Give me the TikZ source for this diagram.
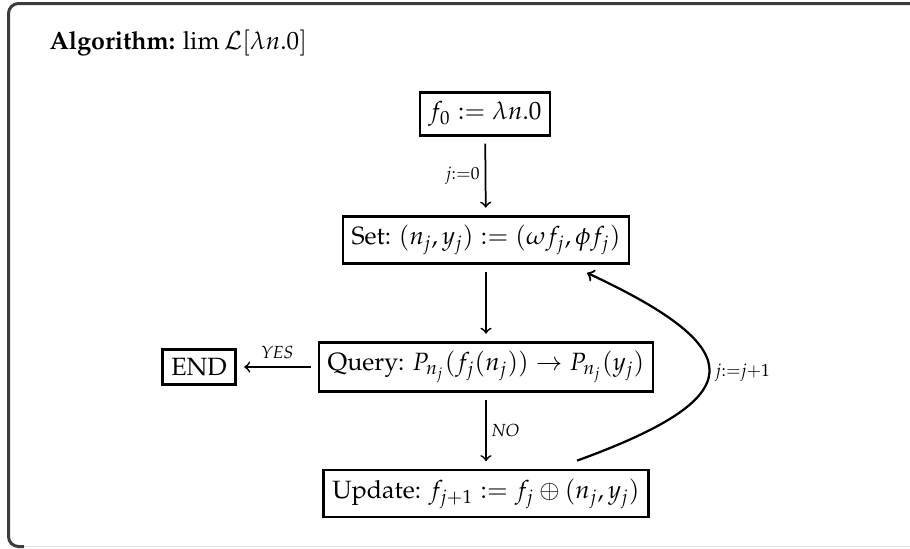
\documentclass[tikz,border=0pt]{standalone}
\usepackage[T1]{fontenc}
\usepackage{mathpazo}
\definecolor{framegray}{HTML}{3C3C3C}
\definecolor{shadegray}{HTML}{E4E4E4}
\begin{document}
\begin{tikzpicture}[x=0.4pt, y=-0.4pt,
% common options for the boxes:
box/.style = {draw, line width=1pt, inner sep=3.5pt, align=center},
% common options for the arrows:
flow/.style = {->, line width=0.7pt, shorten <=2.8pt, shorten >=3pt},
% common options for the small labels:
lbl/.style = {font=\scriptsize, inner sep=2pt}]
\useasboundingbox (0,0) rectangle (910,548);
% the frame
\draw[framegray, line width=1.2pt, rounded corners=4pt] (930,3.5) -- (8.5,3.5) -- (8.5,546.5) -- (24,546.5);
\draw[shadegray, line width=0.5pt] (24,546.5) -- (910,546.5);
\node[anchor=base west, inner sep=0] (title) at (49,49) {\textbf{Algorithm:} $\lim\mathcal{L}[\lambda n.0]$};
\node[box] (init) at (485,114) {$f_0 := \lambda n.0$};
\node[box] (set) at (486,240) {Set: $(n_j, y_j) := (\omega f_j, \phi f_j)$};
\node[box] (query) at (486,367) {Query: $P_{n_j}(f_j(n_j)) \to P_{n_j}(y_j)$};
\node[box] (stop) at (199,367) {END};
\node[box] (update) at (486,493.5) {Update: $f_{j+1} := f_j \oplus (n_j, y_j)$};
\draw[flow] (init) to node[lbl, left] {$j{:=}0$} (set);
\draw[flow] (set) to (query);
\draw[flow] (query) to node[lbl, above, yshift=1pt] {\textit{YES}} (stop);
\draw[flow] (query) to node[lbl, right] {\textit{NO}} (update);
\draw[->, line width=0.9pt] ([xshift=36.4pt, yshift=3.2pt]update.north) to[out=20, in=-25, looseness=2.5]
  node[lbl, right, pos=0.5] {$j{:=}j{+}1$} ([xshift=40.4pt, yshift=-3.2pt]set.south);
\end{tikzpicture}
\end{document}
